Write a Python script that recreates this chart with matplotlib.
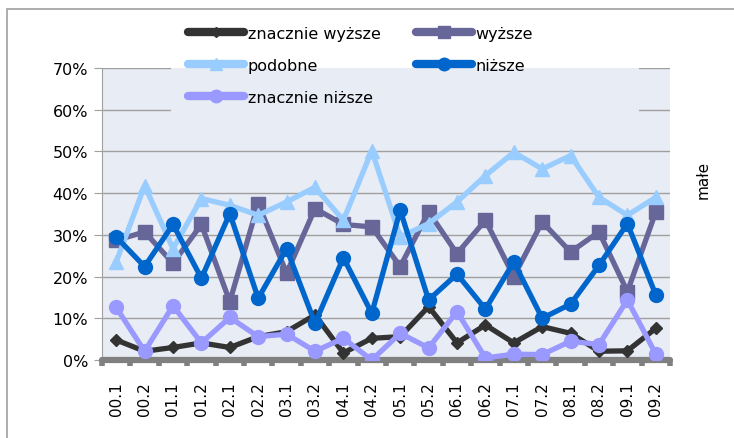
import matplotlib
matplotlib.use("Agg")
import matplotlib.pyplot as plt
import numpy as np
from matplotlib.patches import Rectangle
from matplotlib.lines import Line2D

okresy = ['00.1', '00.2', '01.1', '01.2', '02.1', '02.2', '03.1', '03.2', '04.1', '04.2',
          '05.1', '05.2', '06.1', '06.2', '07.1', '07.2', '08.1', '08.2', '09.1', '09.2']

znacznie_wyzsze = [4.8, 2.1, 3.0, 4.1, 3.0, 5.6, 6.8, 10.8, 1.7, 5.2,
                   5.6, 12.8, 4.1, 8.4, 4.1, 8.0, 6.4, 2.1, 2.2, 7.6]
wyzsze = [28.7, 30.7, 23.2, 32.5, 14.0, 37.5, 20.8, 36.3, 32.5, 31.9,
          22.4, 35.5, 25.5, 33.5, 20.0, 33.1, 25.9, 30.7, 16.4, 35.5]
podobne = [23.5, 41.8, 26.7, 38.7, 37.1, 34.7, 37.9, 41.4, 33.5, 50.2,
           29.5, 32.7, 37.9, 44.2, 49.8, 45.8, 49.0, 39.0, 34.7, 39.0]
nizsze = [29.5, 22.4, 32.5, 19.6, 35.1, 14.8, 26.7, 8.8, 24.5, 11.2,
          35.9, 14.4, 20.6, 12.2, 23.5, 10.0, 13.4, 22.7, 32.7, 15.6]
znacznie_nizsze = [12.6, 2.1, 13.0, 4.1, 10.2, 5.6, 6.2, 2.1, 5.2, 0.0,
                   6.4, 2.9, 11.6, 0.5, 1.4, 1.3, 4.5, 3.7, 14.4, 1.4]

W, H = 734, 439
bg = '#e8ecf4'
fig = plt.figure(figsize=(W / 100, H / 100), dpi=100)
ax = fig.add_axes([102 / W, 1 - 361 / H, (670 - 102) / W, (361 - 69) / H])
ax.set_facecolor(bg)

# ramka wokol wykresu
fig.patches.append(Rectangle((7 / W, -0.1), 1.2, 1 - 10 / H + 0.1, transform=fig.transFigure,
                             fill=False, edgecolor='#a0a0a0', linewidth=1.2))

serie = [
    ('znacznie wyższe', znacznie_wyzsze, '#333333', 'D', 6, 3),
    ('wyższe', wyzsze, '#666699', 's', 10, 4),
    ('podobne', podobne, '#99ccff', '^', 10, 5),
    ('niższe', nizsze, '#0066cc', 'o', 10, 6),
    ('znacznie niższe', znacznie_nizsze, '#9999ff', 'o', 10, 7),
]

x = np.arange(len(okresy))
uchwyty = {}
for nazwa, dane, kolor, mk, ms, z in serie:
    ax.plot(x, dane, color=kolor, lw=3.8, marker=mk, ms=ms,
            solid_capstyle='round', zorder=z)
    uchwyty[nazwa] = Line2D([], [], color=kolor, lw=6, marker=mk, ms=ms * 0.9,
                            solid_capstyle='round')

ax.set_xlim(-0.5, len(okresy) - 0.5)
ax.set_ylim(0, 70)
ax.set_yticks(range(0, 71, 10))
ax.set_yticklabels([f'{v}%' for v in range(0, 71, 10)], fontsize=11.5)
ax.yaxis.grid(True, color='#a0a0a0', lw=1)
ax.set_axisbelow(True)

# legenda zaslania siatke
ax.add_patch(Rectangle((171 / W, 1 - 125 / H), (639 - 171) / W, (125 - 69) / H,
                       transform=fig.transFigure, facecolor=bg, edgecolor='none',
                       zorder=1, clip_on=False))

ax.set_xticks(x)
ax.set_xticklabels(okresy, rotation=90, fontsize=11)
ax.set_xticks(np.arange(-0.5, len(okresy)), minor=True)
ax.tick_params(axis='x', which='major', length=0, pad=15)
ax.tick_params(axis='x', which='minor', length=4, width=4, color='#808080', direction='out')
ax.tick_params(axis='y', length=6, color='#a0a0a0', pad=4)

for s in ['top', 'right']:
    ax.spines[s].set_visible(False)
ax.spines['left'].set_color('#a0a0a0')
ax.spines['bottom'].set_color('#808080')
ax.spines['bottom'].set_linewidth(4.5)
ax.spines['bottom'].set_capstyle('round')

kolejnosc = ['znacznie wyższe', 'podobne', 'znacznie niższe', 'wyższe', 'niższe']
leg = ax.legend([uchwyty[k] for k in kolejnosc], kolejnosc, ncol=2, loc='upper left',
                bbox_to_anchor=(188 / W, 1 - 27 / H), bbox_transform=fig.transFigure,
                frameon=False, fontsize=11.5, handlelength=3.5, handletextpad=0.25,
                columnspacing=2.2, labelspacing=1.05, borderpad=0, borderaxespad=0)
leg.set_zorder(20)

fig.text(703 / W, 1 - 180 / H, 'małe', rotation=90, ha='center', va='center', fontsize=11)

fig.savefig('out.png', dpi=100)
